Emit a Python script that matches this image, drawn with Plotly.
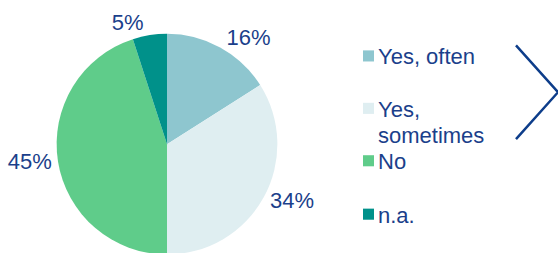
import plotly.graph_objects as go

labels = ["Yes, often", "Yes, sometimes", "No", "n.a."]
legend_lines = [["Yes, often"], ["Yes,", "sometimes"], ["No"], ["n.a."]]
values = [16, 34, 45, 5]
colors = ["#8EC6CF", "#DFEEF1", "#5FCC8A", "#00918A"]
text_color = "#1B3F8B"

W, H = 558, 253      # picture size
VIEW_H = 259         # browser viewport height the picture is taken from

def px(x):
    return x / W

def py(y):
    return 1 - y / H

FONT = "Liberation Sans, Arial"
pie_domain = dict(x=[px(56), px(278)], y=[py(252.5), py(33.5)])

fig = go.Figure()
# slices
fig.add_trace(go.Pie(
    labels=labels,
    values=values,
    sort=False,
    direction="clockwise",
    rotation=0,
    marker=dict(colors=colors, line=dict(width=0)),
    textinfo="none",
    domain=pie_domain,
    showlegend=False,
    hoverinfo="label+percent",
))
# percentage labels (same slices, transparent, text outside)
fig.add_trace(go.Pie(
    labels=labels,
    values=values,
    sort=False,
    direction="clockwise",
    rotation=0,
    marker=dict(colors=["rgba(0,0,0,0)"] * len(values), line=dict(width=0)),
    texttemplate="%{value}%",
    textposition="outside",
    outsidetextfont=dict(family=FONT, size=22, color=text_color),
    domain=pie_domain,
    showlegend=False,
    hoverinfo="skip",
))

# manual legend
legend_y = [55.5, 107.5, 159.5, 212.5]
line_gap = 26
shapes = []
annotations = []
for i, (lines, col) in enumerate(zip(legend_lines, colors)):
    cy = legend_y[i]
    shapes.append(dict(type="rect", xref="paper", yref="paper",
                       x0=px(363), x1=px(374), y0=py(cy + 5.5), y1=py(cy - 5.5),
                       fillcolor=col, line=dict(width=0)))
    for j, ln in enumerate(lines):
        annotations.append(dict(x=px(376), y=py(cy + 1 + j * line_gap), xref="paper", yref="paper",
                                text=ln, showarrow=False, xanchor="left", yanchor="middle",
                                align="left",
                                font=dict(family=FONT, size=22, color=text_color)))

# chevron
shapes.append(dict(type="path", xref="paper", yref="paper",
                   path=f"M {px(516)} {py(45)} L {px(558)} {py(91.5)} L {px(516)} {py(138)}",
                   line=dict(color="#0D3D8A", width=2.5)))

fig.update_layout(
    width=W, height=VIEW_H,
    margin=dict(l=0, r=0, t=0, b=0),
    paper_bgcolor="white",
    plot_bgcolor="white",
    shapes=shapes,
    annotations=annotations,
)

post = (
    "var h=document.documentElement,b=document.body;"
    "h.style.margin='0';h.style.padding='0';h.style.overflow='hidden';"
    "b.style.margin='0';b.style.padding='0';b.style.overflow='hidden';"
)

fig.write_html("out.html", config={"displayModeBar": False}, post_script=post)
